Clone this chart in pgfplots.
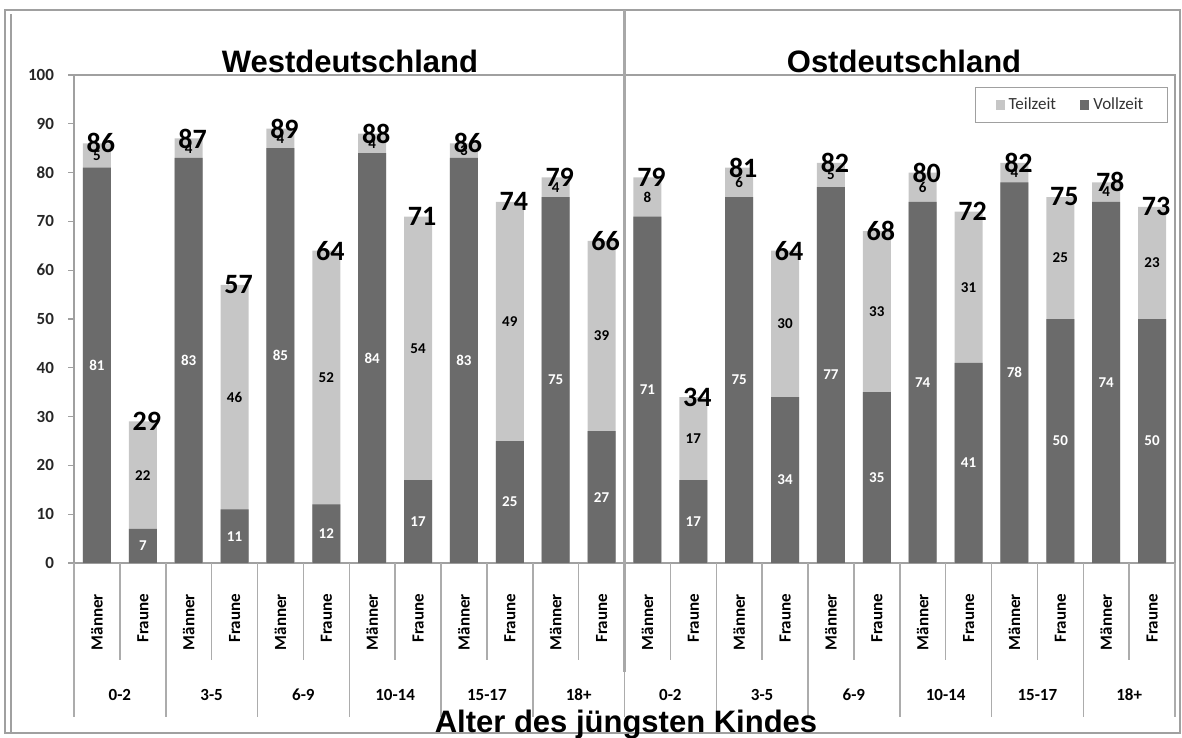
\documentclass[border=0pt]{standalone}
\usepackage{fontspec}
\setmainfont{Carlito}
\newfontfamily\arialfont{Liberation Sans}
\usepackage{pgfplots}
\usepackage{pgfplotstable}
\pgfplotsset{compat=1.18}
\definecolor{vz}{RGB}{107,107,107}
\definecolor{tz}{RGB}{198,198,198}
\definecolor{sep}{RGB}{172,172,172}
\definecolor{frm}{RGB}{160,160,160}

\pgfplotstableread{
x V T
0 81 5
1 7 22
2 83 4
3 11 46
4 85 4
5 12 52
6 84 4
7 17 54
8 83 3
9 25 49
10 75 4
11 27 39
12 71 8
13 17 17
14 75 6
15 34 30
16 77 5
17 35 33
18 74 6
19 41 31
20 78 4
21 50 25
22 74 4
23 50 23
}\data

\begin{document}
\begin{tikzpicture}[x=0.5pt,y=-0.5pt]
\path[use as bounding box] (0,0) rectangle (1182,738);
\draw[frm, line width=1.3pt] (5,10) rectangle (1180,733);
\draw[frm, line width=0.6pt] (11,14) -- (11,733);

\begin{axis}[
  at={(37pt,-281.5pt)}, anchor=south west,
  scale only axis, width=550.5pt, height=244pt,
  xmin=-0.5, xmax=23.5, ymin=0, ymax=100,
  clip=false,
  axis line style={draw=frm, line width=0.6pt},
  ytick={0,10,...,100}, ytick pos=left,
  tick align=outside, major tick length=3pt,
  tick style={draw=frm, line width=0.6pt},
  xtick={0,...,23}, xtick pos=bottom,
  x tick style={draw=none},
  xticklabels={Männer,Fraune,Männer,Fraune,Männer,Fraune,Männer,Fraune,Männer,Fraune,Männer,Fraune,Männer,Fraune,Männer,Fraune,Männer,Fraune,Männer,Fraune,Männer,Fraune,Männer,Fraune},
  x tick label style={rotate=90, anchor=east, font=\bfseries\fontsize{8.5}{10}\selectfont},
  xticklabel shift=9pt,
  y tick label style={font=\bfseries\fontsize{8.5}{10}\selectfont, text=black!85, xshift=-3.5pt},
  /pgf/number format/assume math mode=true,
  legend style={at={(1,1)}, anchor=north east, xshift=-3.5pt, yshift=-6pt,
    draw=frm, line width=0.6pt, font=\fontsize{8.5}{10}\selectfont, text=black!80,
    inner xsep=10pt, inner ysep=3pt,
    /tikz/every even column/.append style={column sep=10pt}},
  legend columns=2,
]
% bars: total (light) behind, Vollzeit (dark) in front
\addplot[forget plot, ybar, bar width=14pt, bar shift=0pt, fill=tz, draw=none]
  table[x=x, y expr=\thisrow{V}+\thisrow{T}] {\data};
\addplot[forget plot, ybar, bar width=14pt, bar shift=0pt, fill=vz, draw=none]
  table[x=x, y=V] {\data};

% value labels
\addplot[forget plot, draw=none, mark=none, nodes near coords, point meta=explicit,
  every node near coord/.append style={anchor=center, text=white, font=\bfseries\fontsize{7.5}{9}\selectfont}]
  table[x=x, y expr=\thisrow{V}/2, meta=V] {\data};
\addplot[forget plot, draw=none, mark=none, nodes near coords, point meta=explicit,
  every node near coord/.append style={anchor=center, text=black, font=\bfseries\fontsize{7.5}{9}\selectfont}]
  table[x=x, y expr=\thisrow{V}+\thisrow{T}/2, meta=T] {\data};
\addplot[forget plot, draw=none, mark=none, nodes near coords, point meta=y,
  every node near coord/.append style={anchor=center, xshift=2pt, text=black, font=\bfseries\fontsize{14}{16}\selectfont}]
  table[x=x, y expr=\thisrow{V}+\thisrow{T}] {\data};

\addlegendimage{legend image code/.code={\fill[tz] (0pt,-2pt) rectangle (4pt,2pt);}}
\addlegendentry{Teilzeit}
\addlegendimage{legend image code/.code={\fill[vz] (0pt,-2pt) rectangle (4pt,2pt);}}
\addlegendentry{Vollzeit}

% category separators
\pgfplotsinvokeforeach{0.5,2.5,...,22.5}{\draw[sep, line width=0.75pt] (axis cs:#1,0) -- ([yshift=-48.5pt]axis cs:#1,0);}
\pgfplotsinvokeforeach{-0.5,1.5,...,23.5}{\draw[sep, line width=0.75pt] (axis cs:#1,0) -- ([yshift=-77pt]axis cs:#1,0);}
\draw[tz!85!black, line width=1.5pt] ([yshift=32.5pt]axis cs:11.5,100) -- ([yshift=-54.5pt]axis cs:11.5,0);

% age group labels
\begin{scope}[every node/.style={font=\bfseries\fontsize{8.5}{10}\selectfont}]
\node at ([yshift=-66pt]axis cs:0.5,0) {0-2};
\node at ([yshift=-66pt]axis cs:2.5,0) {3-5};
\node at ([yshift=-66pt]axis cs:4.5,0) {6-9};
\node at ([yshift=-66pt]axis cs:6.5,0) {10-14};
\node at ([yshift=-66pt]axis cs:8.5,0) {15-17};
\node at ([yshift=-66pt]axis cs:10.5,0) {18+};
\node at ([yshift=-66pt]axis cs:12.5,0) {0-2};
\node at ([yshift=-66pt]axis cs:14.5,0) {3-5};
\node at ([yshift=-66pt]axis cs:16.5,0) {6-9};
\node at ([yshift=-66pt]axis cs:18.5,0) {10-14};
\node at ([yshift=-66pt]axis cs:20.5,0) {15-17};
\node at ([yshift=-66pt]axis cs:22.5,0) {18+};
\end{scope}
\end{axis}

\node[font=\arialfont\bfseries\fontsize{15.5}{18}\selectfont, anchor=base, inner sep=0pt] at (350,73) {Westdeutschland};
\node[font=\arialfont\bfseries\fontsize{15.5}{18}\selectfont, anchor=base, inner sep=0pt] at (904,73) {Ostdeutschland};
\node[font=\arialfont\bfseries\fontsize{15.5}{18}\selectfont, anchor=base, inner sep=0pt] at (626,732) {Alter des jüngsten Kindes};
\end{tikzpicture}
\end{document}
